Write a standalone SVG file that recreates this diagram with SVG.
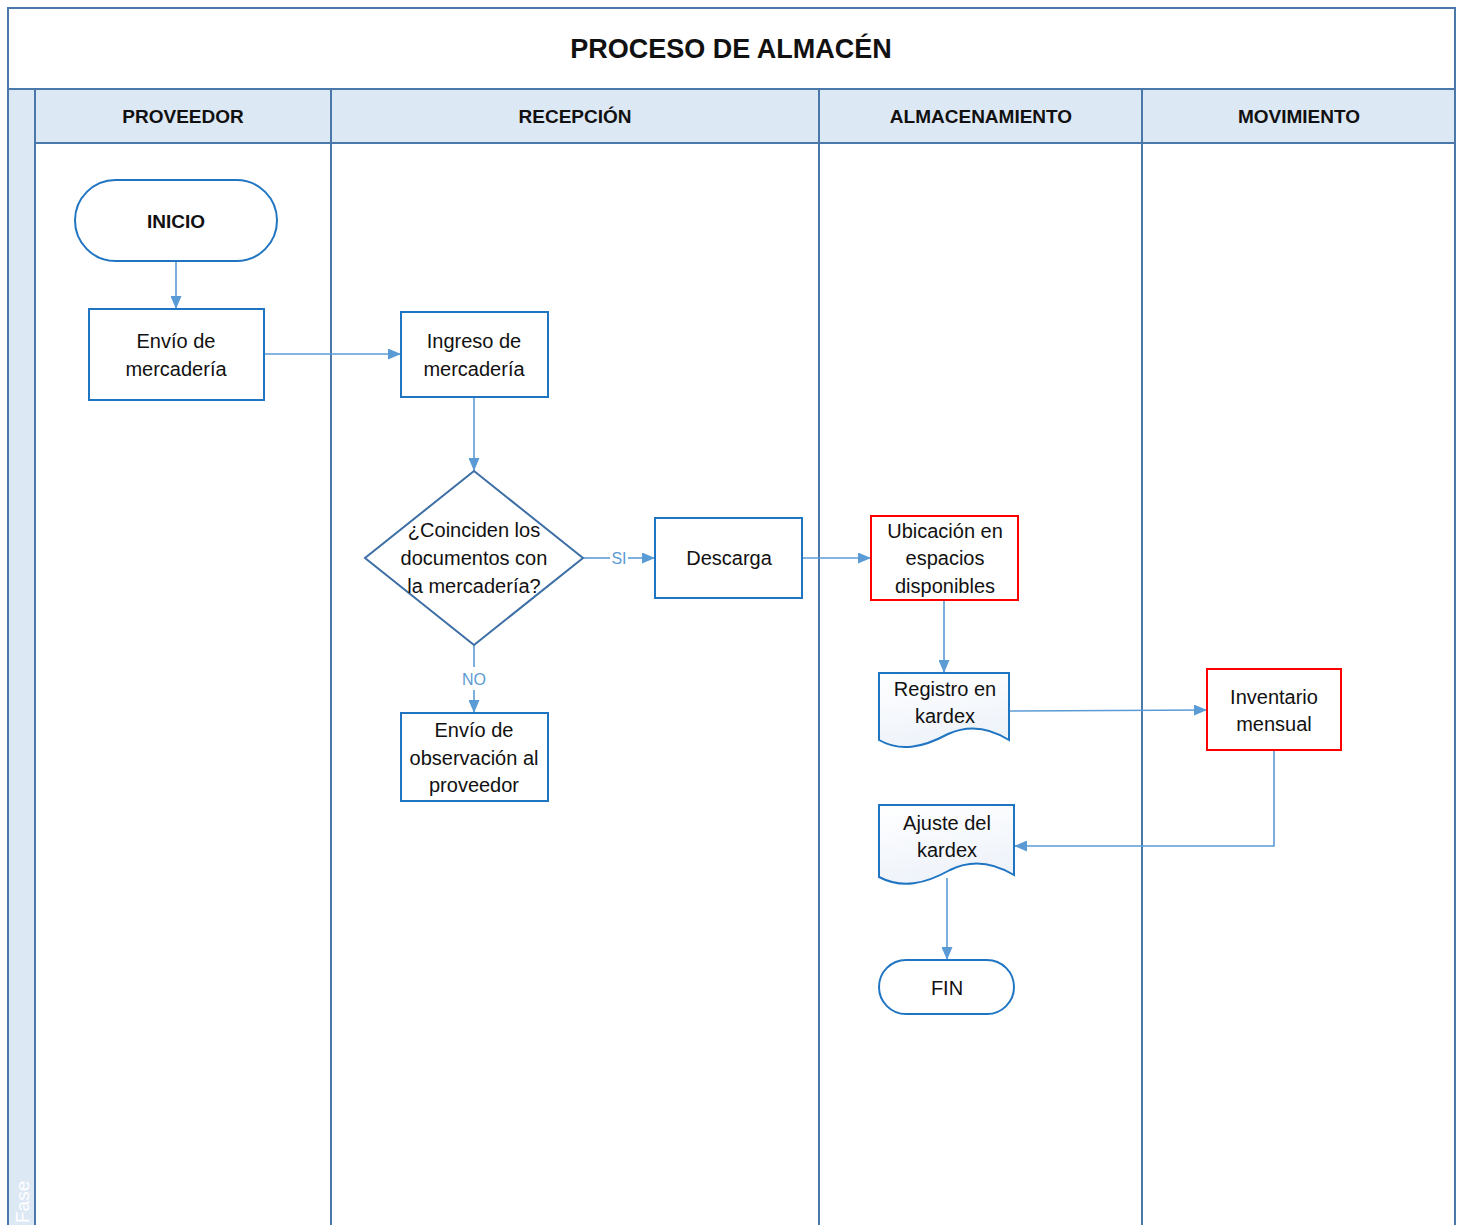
<svg xmlns="http://www.w3.org/2000/svg" width="1462" height="1225" viewBox="0 0 1462 1225">
<style>
.frame{fill:none;stroke:#4a78aa;stroke-width:2}
.hdr{fill:#dde8f5;stroke:#4a78aa;stroke-width:2}
.node{fill:#fff;stroke:#2075c3;stroke-width:2}
.red{fill:#fff;stroke:#ff0000;stroke-width:2}
.doc{fill:url(#docg);stroke:#2075c3;stroke-width:2}
.conn{fill:none;stroke:#5b9bd5;stroke-width:1.6}
.t{font-family:"Liberation Sans",Arial,sans-serif;font-size:20px;fill:#111;text-anchor:middle}
.b{font-family:"Liberation Sans",Arial,sans-serif;font-weight:bold;fill:#111;text-anchor:middle}
.lbl{font-family:"Liberation Sans",Arial,sans-serif;font-size:16px;fill:#5b9bd5;text-anchor:middle}
</style>
<defs>
<marker id="arr" viewBox="0 0 13 11" refX="13" refY="5.5" markerWidth="13" markerHeight="11" markerUnits="userSpaceOnUse" orient="auto">
<path d="M0,0 L13,5.5 L0,11 Z" fill="#5b9bd5"/>
</marker>
<linearGradient id="docg" x1="0" y1="0" x2="0.3" y2="1">
<stop offset="0" stop-color="#ffffff"/>
<stop offset="1" stop-color="#eef3fa"/>
</linearGradient>
</defs>
<rect width="1462" height="1225" fill="#fff"/>
<g id="pool">
<rect x="8" y="89" width="27" height="1140" class="hdr"/>
<rect x="35" y="89" width="1420" height="54" class="hdr"/>
<rect x="8" y="8" width="1447" height="1225" class="frame"/>
<line x1="8" y1="89" x2="1455" y2="89" class="frame"/>
<line x1="331" y1="89" x2="331" y2="1230" class="frame"/>
<line x1="819" y1="89" x2="819" y2="1230" class="frame"/>
<line x1="1142" y1="89" x2="1142" y2="1230" class="frame"/>
<text x="731" y="58" class="b" font-size="27">PROCESO DE ALMACÉN</text>
<text x="183" y="123" class="b" font-size="19">PROVEEDOR</text>
<text x="575" y="123" class="b" font-size="19">RECEPCIÓN</text>
<text x="981" y="123" class="b" font-size="19">ALMACENAMIENTO</text>
<text x="1299" y="123" class="b" font-size="19">MOVIMIENTO</text>
<text transform="translate(29,1223) rotate(-90)" font-family="Liberation Sans,Arial,sans-serif" font-size="19" fill="#ffffff">Fase</text>
</g>
<g id="connectors">
<line x1="176" y1="261" x2="176" y2="309" class="conn" marker-end="url(#arr)"/>
<line x1="264" y1="354" x2="401" y2="354" class="conn" marker-end="url(#arr)"/>
<line x1="474" y1="397" x2="474" y2="471" class="conn" marker-end="url(#arr)"/>
<line x1="583" y1="558" x2="610" y2="558" class="conn"/>
<line x1="628" y1="558" x2="655" y2="558" class="conn" marker-end="url(#arr)"/>
<text x="619" y="564" class="lbl">SI</text>
<line x1="474" y1="645" x2="474" y2="667" class="conn"/>
<line x1="474" y1="690" x2="474" y2="713" class="conn" marker-end="url(#arr)"/>
<text x="474" y="685" class="lbl">NO</text>
<line x1="802" y1="558" x2="871" y2="558" class="conn" marker-end="url(#arr)"/>
<line x1="944" y1="600" x2="944" y2="673" class="conn" marker-end="url(#arr)"/>
<line x1="1009" y1="711" x2="1207" y2="710" class="conn" marker-end="url(#arr)"/>
<polyline points="1274,750 1274,846 1014,846" class="conn" marker-end="url(#arr)"/>
<line x1="947" y1="878" x2="947" y2="960" class="conn" marker-end="url(#arr)"/>
</g>
<g id="inicio">
<rect x="75" y="180" width="202" height="81" rx="40.5" class="node"/>
<text x="176" y="228" class="b" font-size="19">INICIO</text>
</g>
<g id="envio">
<rect x="89" y="309" width="175" height="91" class="node"/>
<text x="176" y="348" class="t">Envío de</text>
<text x="176" y="376" class="t">mercadería</text>
</g>
<g id="ingreso">
<rect x="401" y="312" width="147" height="85" class="node"/>
<text x="474" y="348" class="t">Ingreso de</text>
<text x="474" y="376" class="t">mercadería</text>
</g>
<g id="decision">
<polygon points="474,471 583,558 474,645 365,558" fill="#fff" stroke="#3d6fa6" stroke-width="2"/>
<text x="474" y="537" class="t">¿Coinciden los</text>
<text x="474" y="565" class="t">documentos con</text>
<text x="474" y="593" class="t">la mercadería?</text>
</g>
<g id="descarga">
<rect x="655" y="518" width="147" height="80" class="node"/>
<text x="729" y="565" class="t">Descarga</text>
</g>
<g id="observacion">
<rect x="401" y="713" width="147" height="88" class="node"/>
<text x="474" y="737" class="t">Envío de</text>
<text x="474" y="765" class="t">observación al</text>
<text x="474" y="792" class="t">proveedor</text>
</g>
<g id="ubicacion">
<rect x="871" y="516" width="147" height="84" class="red"/>
<text x="945" y="538" class="t">Ubicación en</text>
<text x="945" y="565" class="t">espacios</text>
<text x="945" y="593" class="t">disponibles</text>
</g>
<g id="registro">
<path d="M879,673 H1009 V740 C990,728 970,724 948,734 C922,748 900,752 879,740 Z" class="doc"/>
<text x="945" y="696" class="t">Registro en</text>
<text x="945" y="723" class="t">kardex</text>
</g>
<g id="inventario">
<rect x="1207" y="669" width="134" height="81" class="red"/>
<text x="1274" y="704" class="t">Inventario</text>
<text x="1274" y="731" class="t">mensual</text>
</g>
<g id="ajuste">
<path d="M879,805 H1014 V875 C994,863 972,859 950,870 C925,884 902,889 879,877 Z" class="doc"/>
<text x="947" y="830" class="t">Ajuste del</text>
<text x="947" y="857" class="t">kardex</text>
</g>
<g id="fin">
<rect x="879" y="960" width="135" height="54" rx="27" class="node"/>
<text x="947" y="995" class="t">FIN</text>
</g>
</svg>
